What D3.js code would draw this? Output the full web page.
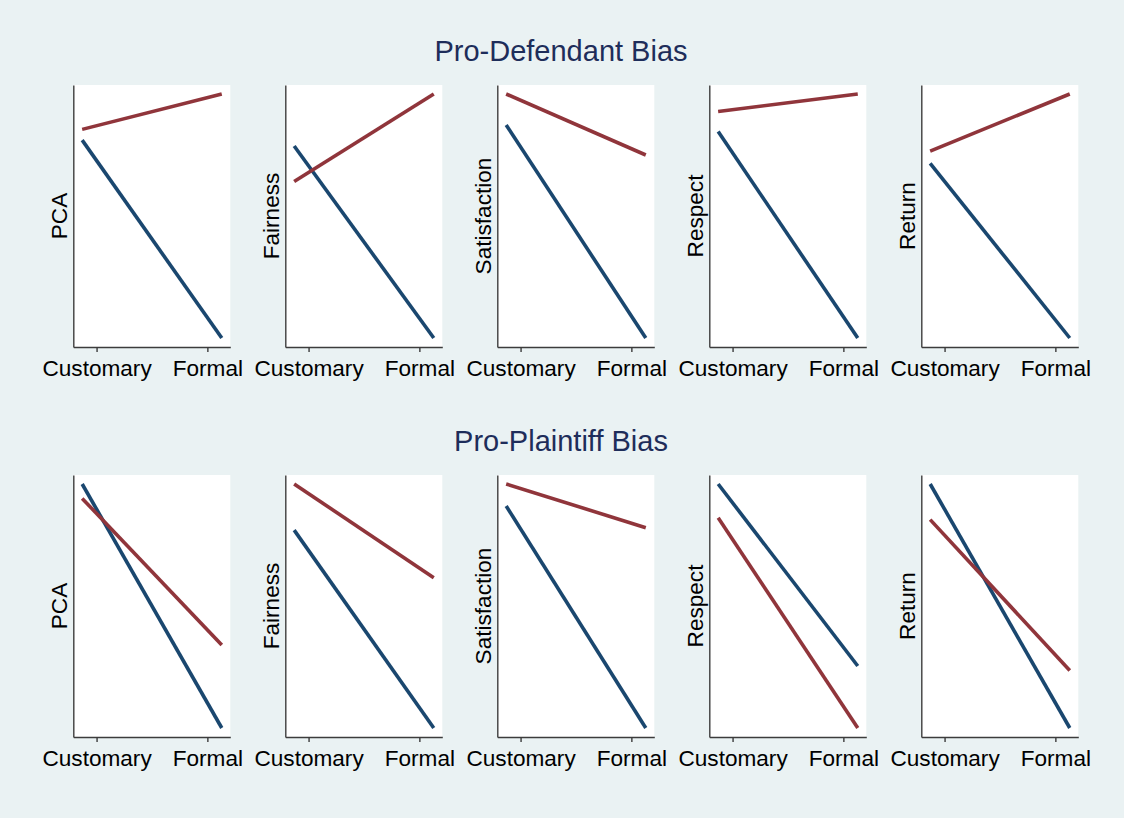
<!DOCTYPE html>
<html>
<head>
<meta charset="utf-8">
<script src="https://cdn.jsdelivr.net/npm/d3@7"></script>
<style>
  body { margin: 0; background: #eaf2f3; }
  svg { display: block; font-family: "Liberation Sans", Arial, Helvetica, sans-serif; }
  .axis path, .axis line { stroke: #3c3c3c; stroke-width: 1.4; }
  .axis text { font-size: 22.6px; fill: #000; }
  .ylabel { font-size: 22.6px; fill: #000; }
  .row-title { font-size: 29px; fill: #1e2d5a; }
</style>
</head>
<body>
<svg id="graph"></svg>
<script>
// categories and labels
const rowTitles = ["Pro-Defendant Bias", "Pro-Plaintiff Bias"];
const measures = ["PCA", "Fairness", "Satisfaction", "Respect", "Return"];
const xTickLabels = ["Customary", "Formal"];
const xTickValues = [0, 1];
const xLinePos = [-0.13, 1.13];

// fitted values (rescaled per panel), [customary, formal]
const defendantBlue = [[0.811, 0], [0.787, 0], [0.873, 0], [0.846, 0], [0.716, 0]];
const defendantRed = [[0.855, 1], [0.641, 1], [1, 0.75], [0.928, 1], [0.766, 1]];
const plaintiffBlue = [[1, 0], [0.811, 0], [0.910, 0], [1, 0.254], [1, 0]];
const plaintiffRed = [[0.941, 0.340], [1, 0.616], [1, 0.821], [0.862, 0], [0.854, 0.236]];

const blue = "#1a476f";
const red = "#90353b";

const width = 1124;
const height = 818;
const svg = d3.select("#graph").attr("width", width).attr("height", height);

svg.append("rect")
  .attr("width", width)
  .attr("height", height)
  .attr("fill", "#eaf2f3");

const panelW = 157;
const panelH = 262;
const colStep = 212;
const left0 = 73.3;
const rowTops = [85, 475];

const rows = [
  { blue: defendantBlue, red: defendantRed },
  { blue: plaintiffBlue, red: plaintiffRed }
];

const xScale = d3.scaleLinear()
  .domain([-0.21, 1.207])
  .range([0, panelW]);

rows.forEach(function (row, r) {
  svg.append("text")
    .attr("class", "row-title")
    .attr("x", 561)
    .attr("y", rowTops[r] - 24.5)
    .attr("text-anchor", "middle")
    .text(rowTitles[r]);

  measures.forEach(function (m, i) {
    const g = svg.append("g")
      .attr("transform", `translate(${left0 + i * colStep},${rowTops[r]})`);

    const vals = row.blue[i].concat(row.red[i]);
    const ext = d3.extent(vals);
    const pad = (ext[1] - ext[0]) * 9 / 244;
    const yScale = d3.scaleLinear()
      .domain([ext[0] - pad, ext[1] + pad])
      .range([panelH, 0]);

    g.append("rect")
      .attr("width", panelW)
      .attr("height", panelH)
      .attr("fill", "#fff");

    const line = d3.line()
      .x((d, k) => xScale(xLinePos[k]))
      .y(d => yScale(d));

    g.append("path")
      .datum(row.blue[i])
      .attr("d", line)
      .attr("fill", "none")
      .attr("stroke", blue)
      .attr("stroke-width", 3.6);

    g.append("path")
      .datum(row.red[i])
      .attr("d", line)
      .attr("fill", "none")
      .attr("stroke", red)
      .attr("stroke-width", 3.6);

    g.append("g")
      .attr("class", "axis")
      .attr("transform", `translate(0,${panelH})`)
      .call(d3.axisBottom(xScale)
        .tickValues(xTickValues)
        .tickFormat((d, k) => xTickLabels[k])
        .tickSize(5)
        .tickSizeOuter(0)
        .tickPadding(8))
      .call(s => s.selectAll("text").attr("dy", "0.71em"));

    g.append("g")
      .attr("class", "axis")
      .call(d3.axisLeft(yScale).tickValues([]).tickSizeOuter(0));

    g.append("text")
      .attr("class", "ylabel")
      .attr("transform", `translate(-6,${panelH / 2}) rotate(-90)`)
      .attr("text-anchor", "middle")
      .text(m);
  });
});
</script>
</body>
</html>
